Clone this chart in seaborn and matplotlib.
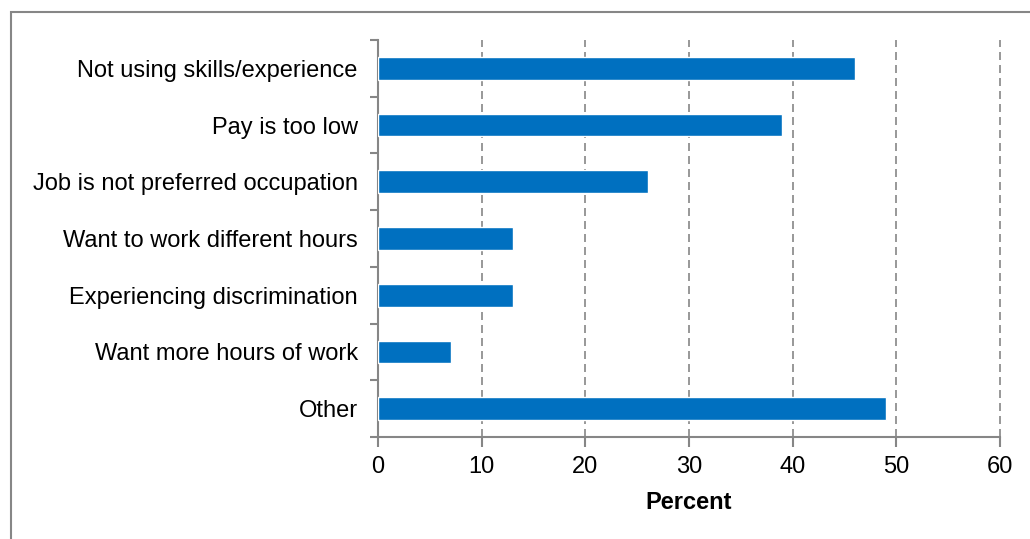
import matplotlib
matplotlib.use("Agg")
import matplotlib.pyplot as plt
import seaborn as sns
import pandas as pd
import numpy as np
from matplotlib.patches import Rectangle

categories = ["Not using skills/experience", "Pay is too low", "Job is not preferred occupation",
              "Want to work different hours", "Experiencing discrimination",
              "Want more hours of work", "Other"]
values = [46, 39, 26, 13, 13, 7, 49]
xticks = [0, 10, 20, 30, 40, 50, 60]

sns.set_theme(style="white")
plt.rcParams['font.family'] = ['Liberation Sans', 'DejaVu Sans']

df = pd.DataFrame({"cat": categories, "val": values})

fig = plt.figure(figsize=(10.30, 5.39), dpi=100)
ax = fig.add_axes([378/1030, 1-437/539, (1000-378)/1030, (437-40)/539])

sns.barplot(data=df, x="val", y="cat", orient="h", color="#0070C0", width=0.4,
            saturation=1, ax=ax, zorder=3)

ax.set_xlim(0, 60)
ax.set_ylim(len(categories)-0.5, -0.5)
ax.set_xticks(xticks)
ax.set_xticklabels([str(t) for t in xticks], fontsize=17, color="black")
ax.tick_params(axis='x', which='major', direction='out', length=7, width=1.5, color="#868686", pad=7, bottom=True)
ax.set_yticks(range(len(categories)))
ax.set_yticklabels(categories, fontsize=17, color="black")
ax.tick_params(axis='y', which='major', length=0, pad=14.5)
ax.set_yticks(np.arange(-0.5, len(categories), 1), minor=True)
ax.tick_params(axis='y', which='minor', direction='out', length=6, width=1.5, color="#868686", left=True)

for t in xticks[1:]:
    ax.axvline(t, color="#868686", linestyle=(0, (4.8, 3)), linewidth=1.2, zorder=1, clip_on=False)

for s in ["top", "right"]:
    ax.spines[s].set_visible(False)
for s in ["left", "bottom"]:
    ax.spines[s].set_color("#868686")
    ax.spines[s].set_linewidth(1.5)
ax.spines["bottom"].set_zorder(4)

ax.set_ylabel("")
ax.set_xlabel("Percent", fontsize=17, fontweight="bold", color="black", labelpad=9)

fig.patches.append(Rectangle((11/1030, -0.1), 1.2, 1-12/539+0.1, transform=fig.transFigure,
                             fill=False, edgecolor="#868686", linewidth=1.5))

fig.savefig("out.png", dpi=100)
